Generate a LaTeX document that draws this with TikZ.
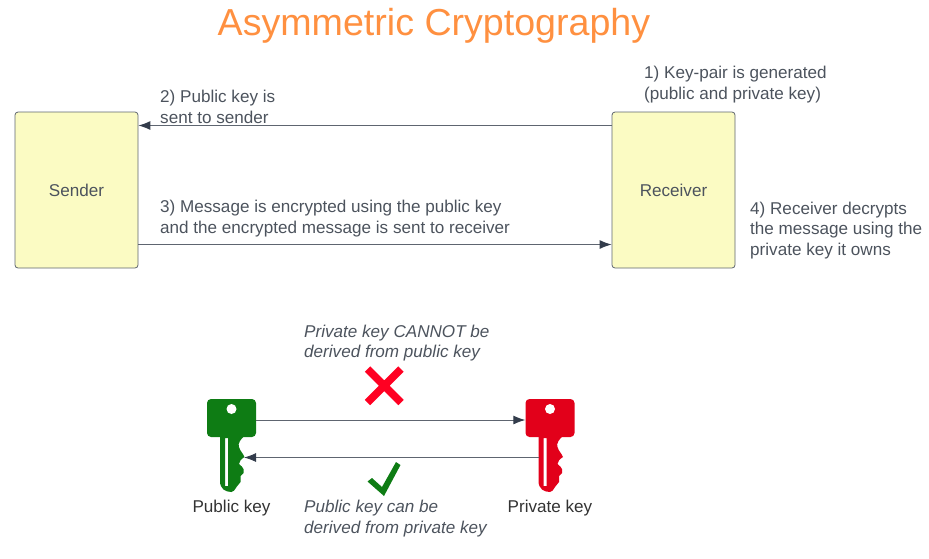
\documentclass[tikz,border=0pt]{standalone}
\usepackage{fontspec}
\setmainfont{Liberation Sans}
\usetikzlibrary{arrows.meta}
\definecolor{txt}{HTML}{4C535D}
\definecolor{lab}{HTML}{333333}
\definecolor{edge}{HTML}{5E6570}
\definecolor{tip}{HTML}{333C4B}
\definecolor{boxfill}{HTML}{FBFBC3}
\definecolor{orng}{HTML}{FF9040}
\definecolor{kgreen}{HTML}{0E7C14}
\definecolor{kred}{HTML}{E2001A}
\definecolor{xred}{HTML}{FF0022}
\newcommand{\fs}{\fontsize{17.1}{20.7}\selectfont}
\tikzset{
  x=1pt,y=-1pt,
  party/.style={draw=edge,line width=0.8pt,fill=boxfill,rounded corners=3pt,minimum width=123pt,minimum height=156pt,inner sep=0pt,text=txt,font=\fs},
  note/.style={anchor=west,align=left,text=txt,font=\fs,inner sep=0pt},
  inote/.style={note,font=\fs\itshape},
  keylabel/.style={text=lab,font=\fs,inner sep=0pt},
  arr/.style={draw=edge,line width=0.9pt,-{Latex[length=12pt,width=9pt,color=tip]}},
  keyhead/.style={rounded corners=4pt,minimum width=49pt,minimum height=38pt,inner sep=0pt,fill=#1},
}
\newcommand{\keybody}[3]{%
  \fill[#3,even odd rule,shift={(#1,#2)}]
    (-11.5,18) -- (13,18) .. controls (9,21) and (6,26) .. (7.5,29)
    .. controls (8.5,33) and (12,36) .. (13,39)
    .. controls (10,41) and (7.5,43) .. (7.5,46)
    .. controls (9,48) and (12,49) .. (12,51)
    -- (12,55) -- (9,58) -- (9,64) -- (5,69)
    .. controls (3,72) and (2,74) .. (0,74)
    .. controls (-6,74) and (-11.5,71) .. (-11.5,63) -- cycle
    (-6.5,20) -- (-3.5,20) -- (-3.5,68) -- (-6.5,68) -- cycle;
  \fill[white,shift={(#1,#2)}] (0,-9) circle (5);
}
\begin{document}
\begin{tikzpicture}
\useasboundingbox (0,0) rectangle (929,558);
\node[text=orng,font=\fontsize{37.6}{40}\selectfont,inner sep=0pt] (title) at (434,25.5) {Asymmetric Cryptography};

\node[party] (sender) at (76.5,190) {Sender};
\node[party] (receiver) at (673.5,190) {Receiver};
\draw[arr] ([yshift=64.5pt]receiver.west) -- ([yshift=64.5pt]sender.east);
\draw[arr] ([yshift=-54.5pt]sender.east) -- ([yshift=-54.5pt]receiver.west);

\node[note] (n1) at (644,84.5) {1) Key-pair is generated\\(public and private key)};
\node[note] (n2) at (160,107) {2) Public key is\\sent to sender};
\node[note] (n3) at (160,218.5) {3) Message is encrypted using the public key\\and the encrypted message is sent to receiver};
\node[note] (n4) at (750,230.5) {4) Receiver decrypts\\the message using the\\private key it owns};

\node[inote] (n5) at (304,343) {Private key CANNOT be\\derived from public key};
\node[inote] (n6) at (304,518.5) {Public key can be\\derived from private key};

\node[keyhead=kgreen] (pubhead) at (231.5,418) {};
\node[keyhead=kred] (privhead) at (550,418) {};
\keybody{231.5}{418}{kgreen}
\keybody{550}{418}{kred}
\coordinate (pubtip) at (244,457.5);
\coordinate (privshaft) at (539,457.5);
\draw[arr] ([yshift=-2pt]pubhead.east) -- ([yshift=-2pt]privhead.west);
\draw[arr] (privshaft) -- (pubtip);

\node[keylabel] (publab) at (231.5,508) {Public key};
\node[keylabel] (privlab) at (550,508) {Private key};

\draw[xred,line width=7.5pt] (367.5,369) -- (401,402.5) (401,369) -- (367.5,402.5);
\fill[kgreen] (367.5,481.5) -- (372,478) -- (382,487) -- (396,462) -- (400.5,465) -- (384,496) -- cycle;
\end{tikzpicture}
\end{document}
